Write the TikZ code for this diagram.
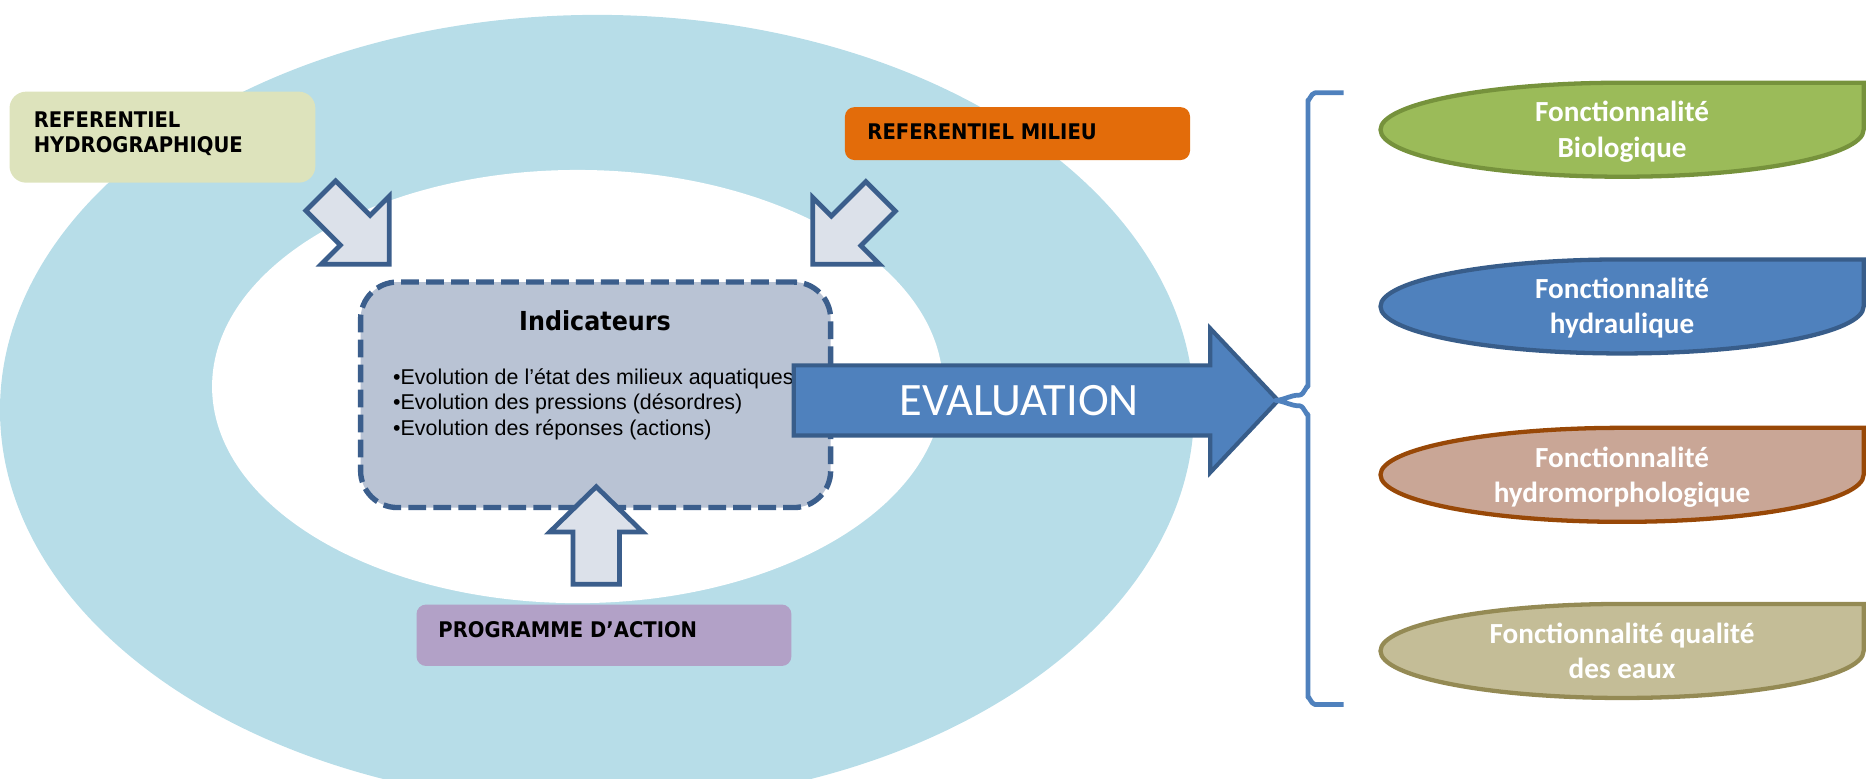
\documentclass[tikz,border=0pt]{standalone}
\usepackage{fontspec}
\setmainfont{Liberation Sans}
\newfontfamily\calibrifont{Carlito}
\newfontfamily\tahomafont{DejaVu Sans}[FakeStretch=0.91]
\definecolor{outerblue}{RGB}{183,221,232}
\definecolor{hydrofill}{RGB}{221,227,188}
\definecolor{milieufill}{RGB}{227,108,10}
\definecolor{progfill}{RGB}{178,161,199}
\definecolor{indfill}{RGB}{185,195,212}
\definecolor{darkblue}{RGB}{59,94,140}
\definecolor{arrowfill}{RGB}{220,225,234}
\definecolor{evalblue}{RGB}{79,129,189}
\definecolor{evalline}{RGB}{56,93,138}
\definecolor{biofill}{RGB}{155,187,89}
\definecolor{bioline}{RGB}{118,146,60}
\definecolor{hmfill}{RGB}{201,166,150}
\definecolor{hmline}{RGB}{152,72,7}
\definecolor{qualfill}{RGB}{196,189,151}
\definecolor{qualline}{RGB}{148,138,84}
\begin{document}
\begin{tikzpicture}[x=0.5pt,y=-0.5pt,
  labelbox/.style={rectangle, inner sep=0pt, draw=none},
  labeltext/.style={inner sep=0pt, anchor=base west, font=\tahomafont\bfseries\fontsize{9.05}{10.5}\selectfont, text=black},
  blockarrow/.style={draw=darkblue, line width=2pt, fill=arrowfill, line join=miter},
  funcshape/.style={line width=1.8pt},
  functext/.style={inner sep=0pt, anchor=base, text=white, font=\calibrifont\bfseries\fontsize{12.25}{14.75}\selectfont},
]
\useasboundingbox (0,0) rectangle (1568,654);
% background rings
\fill[outerblue] (501.7,344.5) ellipse [x radius=501.7, y radius=332];
\fill[white] (485.3,324.8) ellipse [x radius=307.1, y radius=182];
% label boxes
\node[labelbox, fill=hydrofill, rounded corners=7pt, minimum width=128.5pt, minimum height=38.25pt] (hydro) at (136.5,115.25) {};
\node[labeltext] (hydrotext) at (28,107) {\begin{tabular}[t]{@{}l@{}}REFERENTIEL\\HYDROGRAPHIQUE\end{tabular}};
\node[labelbox, fill=milieufill, rounded corners=4pt, minimum width=145pt, minimum height=22.25pt] (milieu) at (855,112.25) {};
\node[labeltext] (milieutext) at (728.5,117.6) {REFERENTIEL MILIEU};
\node[labelbox, fill=progfill, rounded corners=4pt, minimum width=157.5pt, minimum height=25.8pt] (prog) at (507.5,533.8) {};
\node[labeltext] (progtext) at (368,536) {PROGRAMME D’ACTION};
% diagonal block arrows
\draw[blockarrow] (327,222) -- (270,222) -- (286,206) -- (257,177) -- (282,152) -- (311,181) -- (327,165) -- cycle;
\draw[blockarrow] (683,222) -- (739,222) -- (723.4,206.4) -- (752.4,177.4) -- (727.6,152.6) -- (698.6,181.6) -- (683,166) -- cycle;
% indicateurs box
\node[draw=darkblue, fill=indfill, line width=2.25pt, dash pattern=on 7.5pt off 3pt, rounded corners=15.5pt, minimum width=197.5pt, minimum height=94.75pt, inner sep=0pt] (ind) at (500.5,331.75) {};
\node[inner sep=0pt, anchor=base, font=\tahomafont\bfseries\fontsize{11}{13}\selectfont] (indtitle) at (500,278) {Indicateurs};
\node[inner sep=0pt, anchor=base west, font=\fontsize{9}{10.75}\selectfont] (indlist) at (330,323) {\begin{tabular}[t]{@{}l@{}}•Evolution de l’état des milieux aquatiques\\•Evolution des pressions (désordres)\\•Evolution des réponses (actions)\end{tabular}};
% up arrow
\draw[blockarrow] (501,409) -- (540,447) -- (520.5,447) -- (520.5,491) -- (481.5,491) -- (481.5,447) -- (462,447) -- cycle;
% evaluation arrow
\draw[draw=evalline, fill=evalblue, line width=1.75pt, line join=miter] (667,307) -- (1017,307) -- (1017,276) -- (1074,336.5) -- (1017,397) -- (1017,366) -- (667,366) -- cycle;
\coordinate (evaltip) at (1072,336.5);
\node[inner sep=0pt, anchor=base, text=white, font=\calibrifont\fontsize{19.5}{22}\selectfont] (evaltext) at (856.5,349) {EVALUATION};
% brace
\draw[evalblue, line width=2pt, line join=round] (1129,78) -- (1105,78) to[out=180,in=-90] (1099,84) -- (1099,325) to[out=90,in=0] (1092,332) to[out=180,in=5] (evaltip) to[out=-5,in=180] (1092,341) to[out=0,in=-90] (1099,348) -- (1099,586) to[out=90,in=180] (1105,592) -- (1129,592);
% functionality shapes
\draw[funcshape, draw=bioline, fill=biofill] (1566,69.5) -- (1363,69.5) arc[start angle=-90, end angle=-360, x radius=203, y radius=39.5] -- cycle;
\node[functext] (bio) at (1363,102.5) {\begin{tabular}[t]{@{}c@{}}Fonctionnalité\\Biologique\end{tabular}};
\draw[funcshape, draw=evalline, fill=evalblue] (1566,218) -- (1363,218) arc[start angle=-90, end angle=-360, x radius=203, y radius=39.5] -- cycle;
\node[functext] (hydrau) at (1363,251) {\begin{tabular}[t]{@{}c@{}}Fonctionnalité\\hydraulique\end{tabular}};
\draw[funcshape, draw=hmline, fill=hmfill] (1566,359.5) -- (1363,359.5) arc[start angle=-90, end angle=-360, x radius=203, y radius=39.5] -- cycle;
\node[functext] (hydromorph) at (1363,392.5) {\begin{tabular}[t]{@{}c@{}}Fonctionnalité\\hydromorphologique\end{tabular}};
\draw[funcshape, draw=qualline, fill=qualfill] (1566,507.5) -- (1363,507.5) arc[start angle=-90, end angle=-360, x radius=203, y radius=39.5] -- cycle;
\node[functext] (qual) at (1363,540.5) {\begin{tabular}[t]{@{}c@{}}Fonctionnalité qualité\\des eaux\end{tabular}};
\end{tikzpicture}
\end{document}
